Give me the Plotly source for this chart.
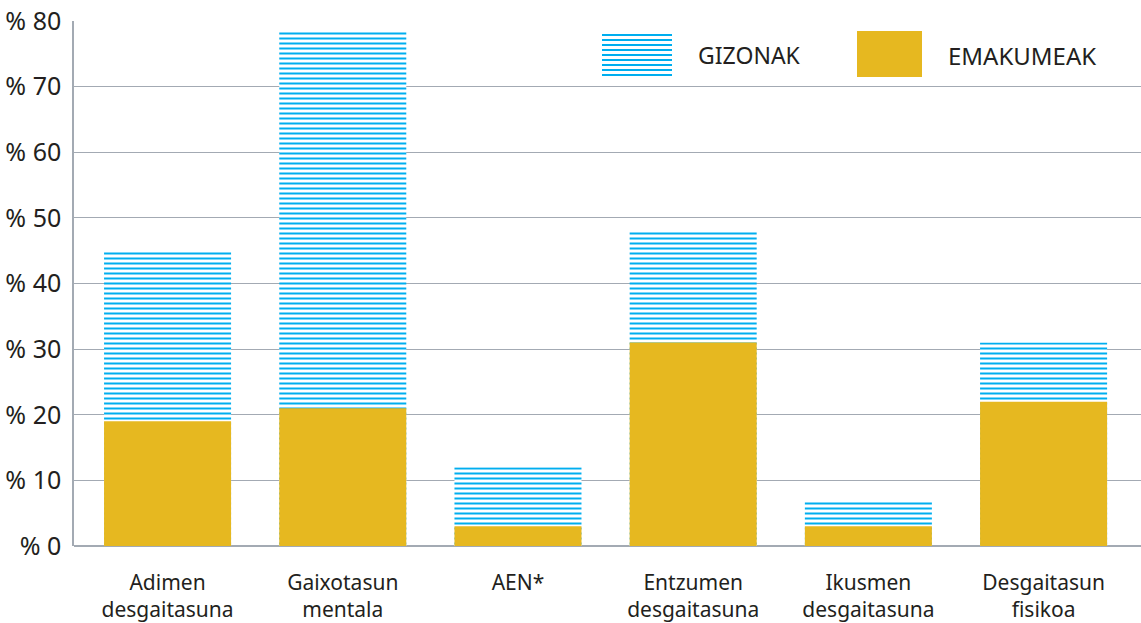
import plotly.graph_objects as go

categories = ["Adimen<br>desgaitasuna", "Gaixotasun<br>mentala", "AEN*",
              "Entzumen<br>desgaitasuna", "Ikusmen<br>desgaitasuna", "Desgaitasun<br>fisikoa"]
gizonak = [45, 78.5, 12, 48, 7, 31]
emakumeak = [19, 21, 3, 31, 3, 22]
y_ticks = [0, 10, 20, 30, 40, 50, 60, 70, 80]
y_labels = ["% " + str(v) for v in y_ticks]

BLUE = "#00AEEF"
GOLD = "#E6B820"
GRID = "#A3AAB3"
TEXT = "#231F20"
FONT = "Noto Sans"

# plot area in pixels, used to place the hand-made legend
L, R, T, B = 74, 1141, 21, 546


def px(x):
    return (x - L) / (R - L)


def py(y):
    return (B - y) / (B - T)


fig = go.Figure()
fig.add_trace(go.Bar(x=categories, y=gizonak, name="GIZONAK",
                     marker=dict(color="white", line=dict(width=0),
                                 pattern=dict(shape="-", fgcolor=BLUE, bgcolor="white",
                                              fgopacity=1, fillmode="replace",
                                              size=5, solidity=0.4))))
fig.add_trace(go.Bar(x=categories, y=emakumeak, name="EMAKUMEAK",
                     marker=dict(color=GOLD, line=dict(width=0))))

# legend: striped swatch, gold swatch, labels
shapes = []
for i in range(9):
    yy = 35 + i * 5
    shapes.append(dict(type="line", xref="paper", yref="paper",
                       x0=px(602), x1=px(672), y0=py(yy), y1=py(yy),
                       line=dict(color=BLUE, width=2)))
shapes.append(dict(type="rect", xref="paper", yref="paper",
                   x0=px(857), x1=px(922), y0=py(77), y1=py(31),
                   fillcolor=GOLD, line=dict(width=0)))

annotations = [
    dict(text="GIZONAK", xref="paper", yref="paper", x=px(696), y=py(55),
         xanchor="left", yanchor="middle", showarrow=False,
         font=dict(size=23, color=TEXT, family=FONT)),
    dict(text="EMAKUMEAK", xref="paper", yref="paper", x=px(946), y=py(55),
         xanchor="left", yanchor="middle", showarrow=False,
         font=dict(size=24, color=TEXT, family=FONT)),
]

fig.update_layout(
    width=1141, height=623,
    margin=dict(l=L, r=1141 - R, t=T, b=623 - B),
    barmode="overlay", bargap=0.275,
    showlegend=False,
    plot_bgcolor="white", paper_bgcolor="white",
    font=dict(family=FONT, color=TEXT),
    shapes=shapes, annotations=annotations,
    xaxis=dict(range=[-0.534, 5.556], showgrid=False, showline=False, ticks="",
               ticklabelstandoff=22, tickfont=dict(size=21, color=TEXT)),
    yaxis=dict(range=[0, 80], tickvals=y_ticks, ticktext=y_labels,
               showgrid=True, gridcolor=GRID, gridwidth=1,
               zeroline=True, zerolinecolor=GRID, zerolinewidth=1.5,
               showline=True, linecolor=GRID, linewidth=1.5,
               ticks="", ticklabelstandoff=6,
               tickfont=dict(size=25, color=TEXT)),
)

fig.write_html("out.html", config={"displayModeBar": False},
               post_script="document.body.style.margin='0';")
